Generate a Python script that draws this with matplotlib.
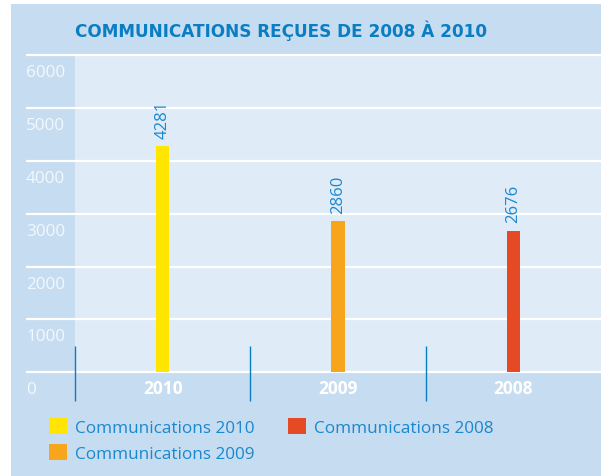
import matplotlib
matplotlib.use("Agg")
import matplotlib.pyplot as plt
from matplotlib.patches import Rectangle, Patch
from matplotlib.transforms import blended_transform_factory, ScaledTranslation

# ---- data ----
categories = ["2010", "2009", "2008"]
values = [4281, 2860, 2676]
series_labels = ["Communications 2010", "Communications 2009", "Communications 2008"]
colors = ["#ffe500", "#f7a51d", "#e64a25"]
y_ticks = [0, 1000, 2000, 3000, 4000, 5000, 6000]
title = "COMMUNICATIONS REÇUES DE 2008 À 2010"

W, H = 601, 477
DPI = 100
OUTER = "#c6dcf0"
PLOTBG = "#dfebf7"
BLUE = "#0a7dc3"
TXTBLUE = "#1a88cf"

plt.rcParams['font.family'] = ['Open Sans', 'DejaVu Sans']

fig = plt.figure(figsize=(W / DPI, H / DPI), dpi=DPI)
fig.patch.set_facecolor("white")

# outer panel
fig.patches.append(Rectangle((11 / W, 0), 1 - 11 / W, (H - 5) / H,
                             transform=fig.transFigure, facecolor=OUTER,
                             edgecolor="none", zorder=-10))

left = 75 / W
bottom = (H - 373.3) / H
top = (H - 56) / H
ax = fig.add_axes([left, bottom, 1 - left, top - bottom])
ax.set_facecolor(PLOTBG)
for s in ax.spines.values():
    s.set_visible(False)

x = list(range(len(categories)))
ax.bar(x, values, width=0.075, color=colors, zorder=3)
ax.set_xlim(-0.5, len(categories) - 0.5)
ax.set_ylim(0, 6000)

# gridlines extending to left of the axes
gtrans = blended_transform_factory(fig.transFigure, ax.transData)
ax.hlines(y_ticks, 26 / W, 1, transform=gtrans, colors="white",
          linewidth=1.6, clip_on=False, zorder=2)

# category dividers
dtrans = blended_transform_factory(ax.transData, fig.transFigure)
ax.vlines([i - 0.5 for i in x], (H - 402) / H, (H - 347) / H,
          transform=dtrans, colors=BLUE, linewidth=1.0, clip_on=False, zorder=4)

# value labels
for xi, v in zip(x, values):
    ax.annotate(str(v), (xi, v), xytext=(0, 6), textcoords="offset points",
                rotation=90, ha="center", va="bottom", fontsize=12,
                color=TXTBLUE, zorder=5)

# x ticks
ax.set_xticks(x)
ax.set_xticklabels(categories, fontsize=12.5, fontweight="bold", color="white")
ax.tick_params(axis="x", length=0, pad=5)

# y ticks
ax.set_yticks(y_ticks)
ax.set_yticklabels([str(t) for t in y_ticks], fontsize=12.3, color="#f3f8fd",
                   ha="left")
ax.tick_params(axis="y", length=0, pad=(75 - 26) * 72 / DPI)
off = ScaledTranslation(0, -15 / DPI, fig.dpi_scale_trans)
for lab in ax.get_yticklabels():
    lab.set_transform(lab.get_transform() + off)

# title
fig.text(75 / W, (H - 31) / H, title, fontsize=12.2, fontweight="bold",
         family=["DejaVu Sans"], color=BLUE, ha="left", va="center")

# legend
handles = [Patch(facecolor=c, edgecolor="none") for c in colors]
fig.legend(handles, series_labels, ncol=2, frameon=False,
           loc="upper left", bbox_to_anchor=(49 / W, (H - 419) / H),
           fontsize=12.3, labelcolor=TXTBLUE, handlelength=1.05,
           handleheight=1.1, handletextpad=0.45, columnspacing=2.0,
           labelspacing=0.45, borderaxespad=0, borderpad=0)

fig.savefig("out.png", dpi=DPI)
